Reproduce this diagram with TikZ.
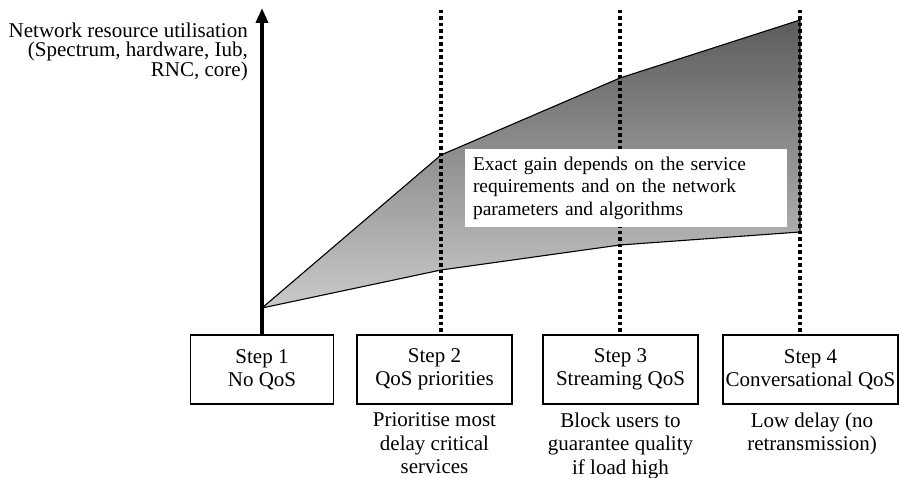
\documentclass[tikz,border=0pt]{standalone}
\usepackage{fontspec}
\setmainfont{Liberation Serif}
\usetikzlibrary{arrows.meta}
\definecolor{bandtop}{RGB}{92,92,92}
\definecolor{bandbottom}{RGB}{202,202,202}
\begin{document}
\begin{tikzpicture}[x=1pt,y=-1pt,
  every node/.style={font=\fontsize{21}{23}\selectfont},
  stepbox/.style={draw, line width=1.3pt, minimum height=69pt, align=center, inner sep=0pt},
  guide/.style={line width=3.5pt, dash pattern=on 3.5pt off 3pt},
  caption/.style={anchor=north, align=center, inner sep=0pt, font=\fontsize{21}{23.5}\selectfont}]

\useasboundingbox (0,0) rectangle (900,478);

% step boxes along the bottom
\node[stepbox, minimum width=143pt] (s1) at (262,369.5) {Step 1\\No QoS};
\node[stepbox, minimum width=155pt] (s2) at (434.5,369.5) {Step 2\\QoS priorities};
\node[stepbox, minimum width=155pt] (s3) at (620.5,369.5) {Step 3\\Streaming QoS};
\node[stepbox, minimum width=175pt] (s4) at (810.5,369.5) {Step 4\\Conversational QoS};

% band of resource utilisation between the two curves
\coordinate (p0) at (262,308);
\coordinate (u2) at (441,155);
\coordinate (u3) at (620,78);
\coordinate (u4) at (800,20);
\coordinate (l4) at (800,232);
\coordinate (l3) at (620,245);
\coordinate (l2) at (441,270);
\draw[line width=1.1pt, line join=round, top color=bandtop, bottom color=bandbottom]
  (p0) -- (u2) -- (u3) -- (u4) -- (l4) -- (l3) -- (l2) -- cycle;

% dotted guides above steps 2--4
\coordinate (g2) at (441,10);
\coordinate (g3) at (620,10);
\coordinate (g4) at (800,10);
\draw[guide] (g2) -- (g2 |- s2.north);
\draw[guide] (g3) -- (g3 |- s3.north);
\draw[guide] (g4) -- (g4 |- s4.north);

% note inside the band
\node[fill=white, inner sep=0pt, minimum width=322pt, minimum height=78pt,
      text width=306pt, align=left, font=\fontsize{19.5}{22.5}\selectfont] (note) at (626,188)
  {Exact gain depends on the service\\requirements and on the network\\parameters and algorithms};

% vertical axis
\coordinate (ytip) at (262,8);
\draw[line width=3.5pt, -{Triangle[length=15pt,width=12pt]}] (s1.north) -- (ytip);

% axis label
\node[anchor=north east, align=right, inner sep=0pt, font=\fontsize{21}{19.5}\selectfont] (ylab) at (248,22.6)
  {Network resource utilisation\\(Spectrum, hardware, Iub,\\RNC, core)};

% captions under the steps
\node[caption] (c2) at (434.5,412.7) {Prioritise most\\delay critical\\services};
\node[caption] (c3) at (620.5,412.7) {Block users to\\guarantee quality\\if load high};
\node[caption] (c4) at (812,412.4) {Low delay (no\\retransmission)};

\end{tikzpicture}
\end{document}
